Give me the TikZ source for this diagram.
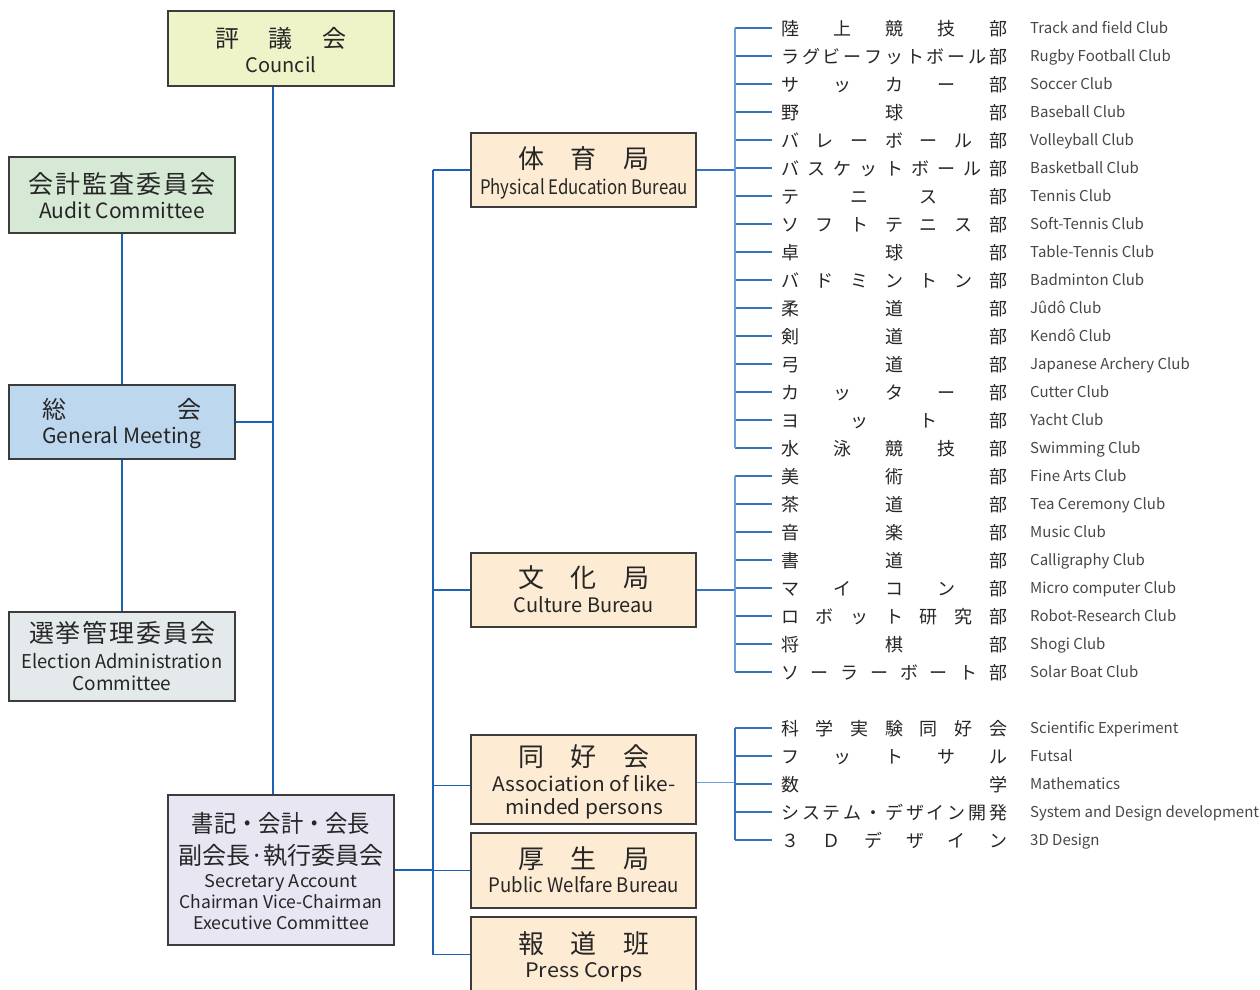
\documentclass[tikz,border=0pt]{standalone}
\usepackage{fontspec}
\setmainfont{Noto Sans CJK JP}
\usetikzlibrary{calc}
\definecolor{ln}{HTML}{1E62B6}
\definecolor{lnbr}{HTML}{3572BF}
\definecolor{lnlight}{HTML}{6F9FD8}
\definecolor{bline}{HTML}{3C3C3C}
\definecolor{txt}{HTML}{262626}
\definecolor{cCouncil}{HTML}{EEF3C8}
\definecolor{cAudit}{HTML}{D5E9D5}
\definecolor{cGeneral}{HTML}{BDD7EE}
\definecolor{cElection}{HTML}{E4EAEC}
\definecolor{cSecretary}{HTML}{E8E6F2}
\definecolor{cBureau}{HTML}{FDEBD3}
\newcommand\spr[2]{\hbox to #1{\expandafter\sprA#2\relax}}
\def\sprA#1{\ifx\relax#1\else #1\expandafter\sprB\fi}
\def\sprB#1{\ifx\relax#1\else\hfill #1\expandafter\sprB\fi}
\newcommand\fs[1]{\fontsize{#1}{#1}\selectfont}
\newcommand\hs[2]{\scalebox{#1}[1]{#2}}
\begin{document}
\begin{tikzpicture}[x=1pt,y=-1pt,
  box/.style={draw=bline, line width=1.1pt, minimum width=226pt, inner sep=0},
  jpt/.style={inner sep=0, text=txt, anchor=base, font=\fs{#1}, yshift={-0.42*#1pt}},
  ent/.style={inner sep=0, text=txt, anchor=base, font=\fs{#1}, yshift={-0.38*#1pt}},
  conn/.style={draw=ln, line width=1.1pt},
  branch/.style={draw=lnbr, line width=1.1pt},
  bus/.style={draw=lnlight, line width=1.6pt},
  clubjp/.style={anchor=base west, inner sep=0, text=txt, font=\fs{18}, xshift=9pt, yshift=-7.56pt},
  cluben/.style={anchor=base west, inner sep=0, text=txt!85!white, font=\fs{15}, yshift=-5.7pt}]
\useasboundingbox (0,0) rectangle (1260,989);
% boxes
\node[box, fill=cCouncil, minimum height=75pt] (council) at (281,48.5) {};
\node[box, fill=cAudit, minimum height=76pt] (audit) at (122,195) {};
\node[box, fill=cGeneral, minimum height=74pt] (general) at (122,422) {};
\node[box, fill=cElection, minimum height=89pt] (election) at (122,656.5) {};
\node[box, fill=cSecretary, minimum height=150pt] (secretary) at (281,870) {};
\node[box, fill=cBureau, minimum width=225pt, minimum height=74pt] (pe) at (583.5,170) {};
\node[box, fill=cBureau, minimum width=225pt, minimum height=74pt] (culture) at (583.5,590) {};
\node[box, fill=cBureau, minimum width=225pt, minimum height=89pt] (assoc) at (583.5,779.5) {};
\node[box, fill=cBureau, minimum width=225pt, minimum height=75pt] (welfare) at (583.5,870.5) {};
\node[box, fill=cBureau, minimum width=225pt, minimum height=75pt] (press) at (583.5,954.5) {};
% box texts
\node[jpt=24] (councilJ) at (281,37) {\spr{131pt}{評議会}};
\node[ent=20] (councilE) at (281,65) {Council};
\node[jpt=25] (auditJ) at (122,183) {\spr{187pt}{会計監査委員会}};
\node[ent=21] (auditE) at (122,211) {Audit Committee};
\node[jpt=24] (generalJ) at (122,408) {\spr{159pt}{総会}};
\node[ent=21] (generalE) at (122,436) {General Meeting};
\node[jpt=25] (electionJ) at (122,632) {\spr{186pt}{選挙管理委員会}};
\node[ent=19] (electionE1) at (122,661) {\hs{0.965}{Election Administration}};
\node[ent=19] (electionE2) at (122,683) {Committee};
\node[jpt=24] (secJ1) at (281,822) {\hs{0.93}{書記・会計・会長}};
\node[jpt=24] (secJ2) at (281,854) {副会長·執行委員会};
\node[ent=17.5] (secE1) at (281,881) {\hs{1.04}{Secretary Account}};
\node[ent=17.5] (secE2) at (281,902) {Chairman Vice-Chairman};
\node[ent=17.5] (secE3) at (281,923) {\hs{1.02}{Executive Committee}};
\node[jpt=26] (peJ) at (584,158) {\spr{132pt}{体育局}};
\node[ent=20] (peE) at (584,187) {\hs{0.84}{Physical Education Bureau}};
\node[jpt=26] (cultureJ) at (584,577) {\spr{132pt}{文化局}};
\node[ent=20] (cultureE) at (584,605) {Culture Bureau};
\node[jpt=26] (assocJ) at (584,756) {\spr{132pt}{同好会}};
\node[ent=20] (assocE1) at (584,784) {\hs{1.045}{Association of like-}};
\node[ent=20] (assocE2) at (584,807) {\hs{1.045}{minded persons}};
\node[jpt=26] (welfareJ) at (584,858) {\spr{132pt}{厚生局}};
\node[ent=20] (welfareE) at (584,885) {\hs{0.93}{Public Welfare Bureau}};
\node[jpt=26] (pressJ) at (584,943) {\spr{132pt}{報道班}};
\node[ent=20] (pressE) at (584,970) {\hs{1.08}{Press Corps}};
% spines
\coordinate (sp) at (273,0);
\coordinate (lb) at (433,0);
\coordinate (rb) at (735,0);
\draw[conn] (council.south -| sp) -- (secretary.north -| sp);
\draw[conn] (general.east) -- (general.east -| sp);
\draw[conn] (audit.south) -- (general.north);
\draw[conn] (general.south) -- (election.north);
\draw[conn] (secretary.east) -- (secretary.east -| lb);
\draw[conn] (pe.west -| lb) -- (press.west -| lb);
\foreach \b in {pe,culture,welfare,press}
  \draw[conn] (\b.west -| lb) -- (\b.west);
\coordinate (assocL) at ($(assoc.west)+(0,6)$);
\coordinate (assocR) at ($(assoc.east)+(0,3)$);
\draw[conn] (assocL -| lb) -- (assocL);
% clubs
\foreach \j/\e [count=\i] in {陸上競技部/Track and field Club, ラグビーフットボール部/Rugby Football Club, サッカー部/Soccer Club, 野球部/Baseball Club, バレーボール部/Volleyball Club, バスケットボール部/Basketball Club, テニス部/Tennis Club, ソフトテニス部/Soft-Tennis Club, 卓球部/Table-Tennis Club, バドミントン部/Badminton Club, 柔道部/Jûdô Club, 剣道部/Kendô Club, 弓道部/Japanese Archery Club, カッター部/Cutter Club, ヨット部/Yacht Club, 水泳競技部/Swimming Club}{
  \pgfmathsetmacro\yy{28*\i}
  \coordinate (pr\i) at (772,\yy);
  \node[clubjp] (pj\i) at (pr\i) {\spr{226pt}{\j}};
  \node[cluben] (pn\i) at (1030,\yy) {\e};
  \draw[branch] (pr\i -| rb) -- (pr\i);
}
\foreach \j/\e [count=\i] in {美術部/Fine Arts Club, 茶道部/Tea Ceremony Club, 音楽部/Music Club, 書道部/Calligraphy Club, マイコン部/Micro computer Club, ロボット研究部/Robot-Research Club, 将棋部/Shogi Club, ソーラーボート部/Solar Boat Club}{
  \pgfmathsetmacro\yy{448+28*\i}
  \coordinate (cr\i) at (772,\yy);
  \node[clubjp] (cj\i) at (cr\i) {\spr{226pt}{\j}};
  \node[cluben] (cn\i) at (1030,\yy) {\e};
  \draw[branch] (cr\i -| rb) -- (cr\i);
}
\foreach \j/\e [count=\i] in {科学実験同好会/Scientific Experiment, フットサル/Futsal, 数学/Mathematics, システム・デザイン開発/System and Design development, ３Ｄデザイン/3D Design}{
  \pgfmathsetmacro\yy{700+28*\i}
  \coordinate (ar\i) at (772,\yy);
  \node[clubjp] (aj\i) at (ar\i) {\spr{226pt}{\j}};
  \node[cluben] (an\i) at (1030,\yy) {\e};
  \draw[branch] (ar\i -| rb) -- (ar\i);
}
\draw[branch] (pe.east) -- (pe.east -| rb);
\draw[branch] (culture.east) -- (culture.east -| rb);
\draw[branch, draw=lnlight] (assocR) -- (assocR -| rb);
\draw[bus] (pr1 -| rb) -- (pr16 -| rb);
\draw[bus] (cr1 -| rb) -- (cr8 -| rb);
\draw[branch] (ar1 -| rb) -- (ar5 -| rb);
\end{tikzpicture}
\end{document}
